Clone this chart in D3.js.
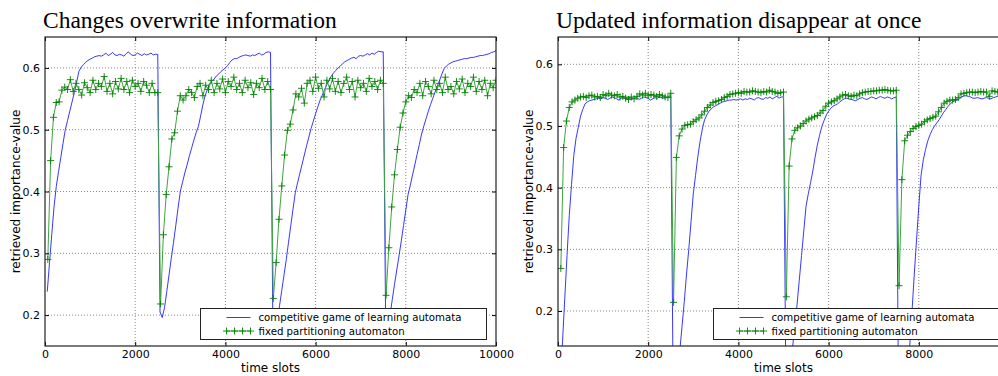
<!DOCTYPE html>
<html>
<head>
<meta charset="utf-8">
<script src="https://cdn.jsdelivr.net/npm/d3@7"></script>
<style>
  body { margin: 0; background: #fff; overflow: hidden; }
  svg { display: block; font-family: "DejaVu Sans", sans-serif; }
  .title { font-family: "Liberation Serif", serif; font-size: 23.5px; }
  .tick text { font-size: 11px; fill: #000; }
  .tick line { stroke: #000; }
  .grid line { stroke: #888; stroke-dasharray: 1,2; }
</style>
</head>
<body>
<script>
const titles = ['Changes overwrite information', 'Updated information disappear at once'];
const seriesNames = ['competitive game of learning automata', 'fixed partitioning automaton'];
const xTicks = [0, 2000, 4000, 6000, 8000, 10000];
const yTicks = [0.2, 0.3, 0.4, 0.5, 0.6];

// time slots between two samples of each series
const blueStep = 50,
      greenStep = 62.5;

// one array per 2500-slot cycle
const leftBlue = [
  [0.238, 0.285, 0.33, 0.375, 0.408, 0.432, 0.455, 0.478, 0.5, 0.515,
   0.53, 0.545, 0.56, 0.576, 0.594, 0.601, 0.605, 0.609, 0.612, 0.614,
   0.616, 0.618, 0.619, 0.62, 0.619, 0.621, 0.624, 0.62, 0.622, 0.625,
   0.621, 0.62, 0.622, 0.621, 0.619, 0.623, 0.626, 0.622, 0.62, 0.621,
   0.624, 0.622, 0.62, 0.623, 0.621, 0.622, 0.624, 0.621, 0.622, 0.622],
  [0.205, 0.196, 0.212, 0.238, 0.265, 0.292, 0.318, 0.345, 0.373, 0.4,
   0.415, 0.43, 0.443, 0.457, 0.47, 0.483, 0.495, 0.505, 0.522, 0.54,
   0.555, 0.565, 0.575, 0.578, 0.582, 0.587, 0.59, 0.594, 0.597, 0.6,
   0.604, 0.609, 0.613, 0.615, 0.615, 0.617, 0.619, 0.62, 0.621, 0.62,
   0.619, 0.621, 0.62, 0.622, 0.624, 0.621, 0.622, 0.625, 0.626, 0.625],
  [0.2, 0.185, 0.19, 0.215, 0.24, 0.265, 0.29, 0.318, 0.345, 0.372,
   0.398, 0.414, 0.429, 0.444, 0.459, 0.474, 0.488, 0.502, 0.514, 0.526,
   0.537, 0.548, 0.556, 0.565, 0.573, 0.58, 0.587, 0.592, 0.596, 0.6,
   0.603, 0.607, 0.61, 0.612, 0.614, 0.616, 0.617, 0.615, 0.619, 0.62,
   0.619, 0.621, 0.623, 0.621, 0.624, 0.622, 0.625, 0.627, 0.626, 0.626],
  [0.21, 0.195, 0.2, 0.225, 0.25, 0.273, 0.296, 0.32, 0.345, 0.37,
   0.395, 0.41, 0.427, 0.443, 0.46, 0.476, 0.493, 0.506, 0.518, 0.53,
   0.541, 0.551, 0.561, 0.571, 0.58, 0.59, 0.599, 0.603, 0.606, 0.608,
   0.61, 0.611, 0.612, 0.613, 0.614, 0.615, 0.615, 0.616, 0.617, 0.617,
   0.618, 0.619, 0.62, 0.62, 0.621, 0.622, 0.623, 0.625, 0.626, 0.628]
];

const leftGreen = [
  [0.29, 0.45, 0.52, 0.544, 0.545, 0.564, 0.569, 0.565, 0.581, 0.562,
   0.575, 0.565, 0.556, 0.576, 0.568, 0.56, 0.58, 0.565, 0.575, 0.57,
   0.586, 0.562, 0.575, 0.558, 0.578, 0.566, 0.583, 0.565, 0.578, 0.56,
   0.58, 0.57, 0.575, 0.562, 0.578, 0.572, 0.56, 0.575, 0.56, 0.56],
  [0.218, 0.33, 0.395, 0.44, 0.485, 0.495, 0.53, 0.555, 0.548, 0.555,
   0.565, 0.56, 0.552, 0.57, 0.575, 0.555, 0.572, 0.565, 0.58, 0.56,
   0.575, 0.566, 0.582, 0.56, 0.578, 0.57, 0.585, 0.565, 0.575, 0.56,
   0.58, 0.568, 0.576, 0.557, 0.575, 0.568, 0.583, 0.565, 0.578, 0.565],
  [0.227, 0.285, 0.355, 0.409, 0.459, 0.499, 0.509, 0.532, 0.558, 0.553,
   0.567, 0.543, 0.575, 0.58, 0.562, 0.585, 0.567, 0.575, 0.553, 0.58,
   0.566, 0.583, 0.562, 0.578, 0.56, 0.575, 0.585, 0.565, 0.578, 0.553,
   0.58, 0.568, 0.575, 0.562, 0.583, 0.57, 0.578, 0.565, 0.58, 0.575],
  [0.232, 0.309, 0.375, 0.427, 0.468, 0.504, 0.527, 0.545, 0.555, 0.552,
   0.565, 0.56, 0.575, 0.555, 0.578, 0.57, 0.558, 0.58, 0.565, 0.575,
   0.56, 0.585, 0.565, 0.57, 0.558, 0.578, 0.566, 0.582, 0.56, 0.575,
   0.57, 0.585, 0.562, 0.578, 0.565, 0.58, 0.555, 0.575, 0.568, 0.58]
];

const rightBlue = [
  [0.08, 0.15, 0.22, 0.29, 0.355, 0.405, 0.452, 0.48, 0.498, 0.516,
   0.527, 0.536, 0.539, 0.541, 0.542, 0.543, 0.544, 0.545, 0.544, 0.546,
   0.545, 0.543, 0.545, 0.547, 0.546, 0.544, 0.542, 0.545, 0.546, 0.545,
   0.547, 0.546, 0.544, 0.545, 0.546, 0.543, 0.545, 0.547, 0.546, 0.545,
   0.542, 0.544, 0.546, 0.545, 0.547, 0.546, 0.545, 0.546, 0.547, 0.548],
  [0.1, 0.06, 0.09, 0.135, 0.175, 0.215, 0.26, 0.3, 0.345, 0.39,
   0.42, 0.45, 0.475, 0.495, 0.51, 0.518, 0.524, 0.528, 0.531, 0.533,
   0.535, 0.537, 0.539, 0.54, 0.541, 0.542, 0.542, 0.543, 0.542, 0.543,
   0.544, 0.542, 0.544, 0.543, 0.545, 0.544, 0.542, 0.545, 0.546, 0.544,
   0.543, 0.546, 0.545, 0.547, 0.544, 0.546, 0.548, 0.545, 0.547, 0.547],
  [0.1, 0.06, 0.1, 0.14, 0.175, 0.21, 0.25, 0.29, 0.33, 0.37,
   0.39, 0.408, 0.427, 0.449, 0.469, 0.485, 0.499, 0.509, 0.518, 0.524,
   0.529, 0.532, 0.534, 0.536, 0.539, 0.542, 0.544, 0.545, 0.544, 0.543,
   0.542, 0.541, 0.543, 0.545, 0.546, 0.544, 0.543, 0.545, 0.547, 0.546,
   0.544, 0.546, 0.548, 0.546, 0.545, 0.547, 0.546, 0.544, 0.546, 0.547],
  [0.06, 0.02, 0.0, 0.035, 0.09, 0.145, 0.2, 0.26, 0.315, 0.37,
   0.42, 0.445, 0.462, 0.476, 0.486, 0.494, 0.5, 0.505, 0.51, 0.516,
   0.522, 0.527, 0.532, 0.536, 0.539, 0.541, 0.542, 0.544, 0.547, 0.549,
   0.549, 0.548, 0.547, 0.545, 0.545, 0.546, 0.545, 0.544, 0.545, 0.546,
   0.545, 0.544, 0.546, 0.547, 0.548, 0.549, 0.548, 0.547, 0.548, 0.549]
];

const rightGreen = [
  [0.269, 0.465, 0.508, 0.53, 0.539, 0.542, 0.545, 0.547, 0.548, 0.546,
   0.549, 0.55, 0.547, 0.548, 0.546, 0.551, 0.549, 0.553, 0.55, 0.549,
   0.551, 0.547, 0.548, 0.545, 0.543, 0.547, 0.544, 0.548, 0.552, 0.55,
   0.553, 0.549, 0.551, 0.55, 0.548, 0.551, 0.549, 0.547, 0.546, 0.553],
  [0.214, 0.449, 0.484, 0.495, 0.501, 0.502, 0.503, 0.507, 0.51, 0.513,
   0.518, 0.524, 0.53, 0.534, 0.538, 0.54, 0.541, 0.543, 0.546, 0.548,
   0.551, 0.552, 0.553, 0.554, 0.553, 0.556, 0.555, 0.555, 0.557, 0.556,
   0.555, 0.554, 0.556, 0.555, 0.558, 0.556, 0.555, 0.553, 0.554, 0.555],
  [0.223, 0.435, 0.479, 0.493, 0.497, 0.5, 0.504, 0.508, 0.511, 0.513,
   0.515, 0.517, 0.521, 0.525, 0.532, 0.537, 0.539, 0.541, 0.544, 0.547,
   0.55, 0.551, 0.549, 0.548, 0.55, 0.549, 0.552, 0.554, 0.555, 0.556,
   0.556, 0.557, 0.557, 0.558, 0.558, 0.559, 0.558, 0.557, 0.557, 0.558],
  [0.241, 0.413, 0.476, 0.485, 0.491, 0.496, 0.499, 0.501, 0.503, 0.507,
   0.51, 0.512, 0.514, 0.516, 0.523, 0.53, 0.537, 0.54, 0.542, 0.542,
   0.543, 0.546, 0.552, 0.553, 0.554, 0.555, 0.555, 0.554, 0.555, 0.556,
   0.555, 0.555, 0.548, 0.557, 0.556, 0.555, 0.556, 0.557, 0.555, 0.556]
];

const width = 998, height = 376;

const svg = d3.select('body')
              .append('svg')
              .attr('width', width)
              .attr('height', height);

const plus = 'M-3.5,0H3.5M0,-3.5V3.5';

function drawPanel(p) {
  const w = 451, h = 309;

  const xScale = d3.scaleLinear().domain([0, 10000]).range([0, w]),
        yScale = d3.scaleLinear().domain(p.yDomain).range([h, 0]);

  svg.append('text')
     .attr('class', 'title')
     .attr('x', p.x0 - 2)
     .attr('y', 28)
     .text(p.title);

  const g = svg.append('g')
               .attr('transform', 'translate(' + p.x0 + ',37)');

  svg.append('clipPath')
     .attr('id', p.id)
     .append('rect')
     .attr('width', w)
     .attr('height', h);

  // dotted grid
  const grid = g.append('g').attr('class', 'grid');
  grid.selectAll('.gx')
      .data(xTicks.slice(1, -1))
      .join('line')
      .attr('x1', d => xScale(d)).attr('x2', d => xScale(d))
      .attr('y1', 0).attr('y2', h);
  grid.selectAll('.gy')
      .data(yTicks)
      .join('line')
      .attr('class', 'gy')
      .attr('x1', 0).attr('x2', w)
      .attr('y1', d => yScale(d)).attr('y2', d => yScale(d));

  const plot = g.append('g').attr('clip-path', 'url(#' + p.id + ')');

  const blue = p.blue.flat(),
        green = p.green.flat();

  plot.append('path')
      .datum(blue)
      .attr('fill', 'none')
      .attr('stroke', '#2020ff')
      .attr('stroke-width', 0.9)
      .attr('d', d3.line()
                   .x((d, i) => xScale(blueStep * (i + 1)))
                   .y(d => yScale(d)));

  plot.append('path')
      .datum(green)
      .attr('fill', 'none')
      .attr('stroke', '#3fa53f')
      .attr('stroke-width', 1)
      .attr('d', d3.line()
                   .x((d, i) => xScale(greenStep * (i + 1)))
                   .y(d => yScale(d)));

  plot.selectAll('.mk')
      .data(green)
      .join('path')
      .attr('class', 'mk')
      .attr('d', plus)
      .attr('stroke', '#008000')
      .attr('stroke-width', 0.9)
      .attr('transform', (d, i) => 'translate(' + xScale(greenStep * (i + 1)) + ',' + yScale(d) + ')');

  // axes, ticks pointing inwards
  const axes = g.append('g');
  axes.append('g')
      .attr('transform', 'translate(0,' + h + ')')
      .call(d3.axisBottom(xScale).tickValues(p.xLabels).tickSizeInner(-4).tickSizeOuter(0)
              .tickPadding(4.5).tickFormat(d3.format('d')));
  axes.append('g')
      .call(d3.axisTop(xScale).tickValues(xTicks).tickSizeInner(-4).tickSizeOuter(0).tickFormat(''));
  axes.append('g')
      .call(d3.axisLeft(yScale).tickValues(yTicks).tickSizeInner(-4).tickSizeOuter(0)
              .tickPadding(5).tickFormat(d3.format('.1f')));
  axes.append('g')
      .attr('transform', 'translate(' + w + ',0)')
      .call(d3.axisRight(yScale).tickValues(yTicks).tickSizeInner(-4).tickSizeOuter(0).tickFormat(''));

  axes.selectAll('.domain').remove();
  axes.selectAll('g').attr('font-family', null).attr('font-size', null);

  g.append('rect')
   .attr('width', w)
   .attr('height', h)
   .attr('fill', 'none')
   .attr('stroke', '#222')
   .attr('stroke-width', 1.2);

  // axis labels
  svg.append('text')
     .attr('x', p.x0 + w / 2)
     .attr('y', 372)
     .attr('text-anchor', 'middle')
     .attr('font-size', 12)
     .text('time slots');
  svg.append('text')
     .attr('transform', 'translate(' + (p.x0 - 25) + ',' + (37 + h / 2) + ') rotate(-90)')
     .attr('text-anchor', 'middle')
     .attr('font-size', 12)
     .text('retrieved importance-value');

  // legend
  const lg = svg.append('g')
                .attr('transform', 'translate(' + p.legendX + ',308.5)');
  lg.append('rect')
    .attr('width', 286)
    .attr('height', 31)
    .attr('fill', '#fff')
    .attr('stroke', '#222')
    .attr('stroke-width', 1);
  lg.append('line')
    .attr('x1', 26).attr('x2', 50)
    .attr('y1', 9).attr('y2', 9)
    .attr('stroke', '#2020ff')
    .attr('stroke-width', 0.9);
  lg.append('line')
    .attr('x1', 26).attr('x2', 50)
    .attr('y1', 22.5).attr('y2', 22.5)
    .attr('stroke', '#3fa53f');
  lg.selectAll('.lm')
    .data([26, 34, 42, 50])
    .join('path')
    .attr('class', 'lm')
    .attr('d', plus)
    .attr('stroke', '#008000')
    .attr('stroke-width', 0.9)
    .attr('transform', d => 'translate(' + d + ',22.5)');
  lg.selectAll('.lt')
    .data(seriesNames)
    .join('text')
    .attr('class', 'lt')
    .attr('x', 58)
    .attr('y', (d, i) => 12.7 + i * 13.5)
    .attr('font-size', 10.2)
    .text(d => d);
}

drawPanel({
  id: 'clipLeft', x0: 45, title: titles[0],
  yDomain: [0.15, 0.65], xLabels: xTicks,
  blue: leftBlue, green: leftGreen, legendX: 200.5
});

drawPanel({
  id: 'clipRight', x0: 558, title: titles[1],
  yDomain: [0.1432, 0.6443], xLabels: xTicks.slice(0, -1),
  blue: rightBlue, green: rightGreen, legendX: 713.5
});
</script>
</body>
</html>
